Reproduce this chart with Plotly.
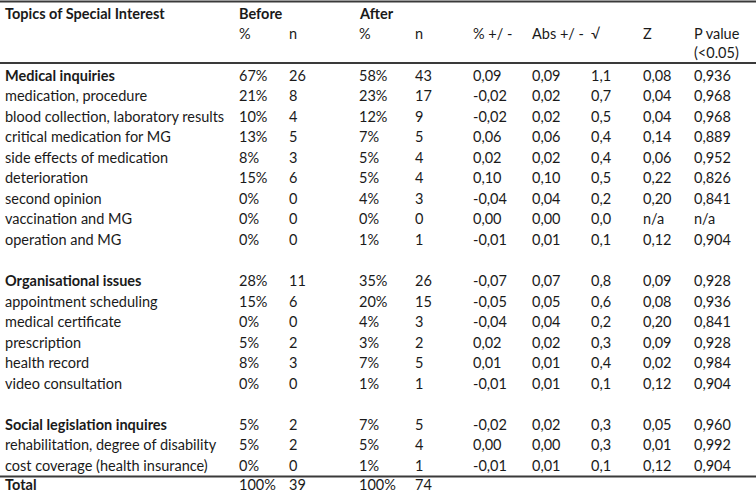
import plotly.graph_objects as go

# ---- data ----
topics = ["Medical inquiries", "medication, procedure", "blood collection, laboratory results",
          "critical medication for MG", "side effects of medication", "deterioration",
          "second opinion", "vaccination and MG", "operation and MG", None,
          "Organisational issues", "appointment scheduling", "medical certificate",
          "prescription", "health record", "video consultation", None,
          "Social legislation inquires", "rehabilitation, degree of disability",
          "cost coverage (health insurance)", "Total"]
bold_rows = {"Medical inquiries", "Organisational issues", "Social legislation inquires", "Total"}
before_pct = [67, 21, 10, 13, 8, 15, 0, 0, 0, None, 28, 15, 0, 5, 8, 0, None, 5, 5, 0, 100]
before_n = [26, 8, 4, 5, 3, 6, 0, 0, 0, None, 11, 6, 0, 2, 3, 0, None, 2, 2, 0, 39]
after_pct = [58, 23, 12, 7, 5, 5, 4, 0, 1, None, 35, 20, 4, 3, 7, 1, None, 7, 5, 1, 100]
after_n = [43, 17, 9, 5, 4, 4, 3, 0, 1, None, 26, 15, 3, 2, 5, 1, None, 5, 4, 1, 74]
pct_diff = [0.09, -0.02, -0.02, 0.06, 0.02, 0.10, -0.04, 0.00, -0.01, None,
            -0.07, -0.05, -0.04, 0.02, 0.01, -0.01, None, -0.02, 0.00, -0.01, None]
abs_diff = [0.09, 0.02, 0.02, 0.06, 0.02, 0.10, 0.04, 0.00, 0.01, None,
            0.07, 0.05, 0.04, 0.02, 0.01, 0.01, None, 0.02, 0.00, 0.01, None]
sqrt_v = [1.1, 0.7, 0.5, 0.4, 0.4, 0.5, 0.2, 0.0, 0.1, None,
          0.8, 0.6, 0.2, 0.3, 0.4, 0.1, None, 0.3, 0.3, 0.1, None]
z_v = [0.08, 0.04, 0.04, 0.14, 0.06, 0.22, 0.20, "n/a", 0.12, None,
       0.09, 0.08, 0.20, 0.09, 0.02, 0.12, None, 0.05, 0.01, 0.12, None]
p_v = [0.936, 0.968, 0.968, 0.889, 0.952, 0.826, 0.841, "n/a", 0.904, None,
       0.928, 0.936, 0.841, 0.928, 0.984, 0.904, None, 0.960, 0.992, 0.904, None]

header1 = ["Topics of Special Interest", "Before", "", "After", "", "", "", "", "", ""]
header2 = ["", "%", "n", "%", "n", "% +/ -", "Abs +/ -", "\u221a", "Z", "P value"]
header3 = ["", "", "", "", "", "", "", "", "", "(<0.05)"]

# ---- layout ----
W, H = 756, 494
col_x = [3, 237, 287, 357, 413, 471, 530, 589, 641, 692]
row0_y = 75
row_h = 20.55
head_y = [13, 33, 52]
FONT = "Lato"
FS = 14.5
COLOR = "#1a1a1a"

def dec(v, nd):
    if v is None:
        return ""
    if isinstance(v, str):
        return v
    s = f"{v:.{nd}f}"
    if s.startswith("-") and float(s) == 0:
        s = s[1:]
    return s.replace(".", ",")

def pct(v):
    return "" if v is None else f"{v}%"

def num(v):
    return "" if v is None else str(v)

annotations = []

def add(x, y, text, bold=False):
    if text == "":
        return
    annotations.append(dict(
        x=x, y=y, xref="x", yref="y", text=f"<b>{text}</b>" if bold else text,
        showarrow=False, xanchor="left", yanchor="middle",
        font=dict(family=FONT, size=FS, color=COLOR)))

for hi, hrow in enumerate([header1, header2, header3]):
    for ci, t in enumerate(hrow):
        add(col_x[ci], head_y[hi], t, bold=(hi == 0))

for ri, topic in enumerate(topics):
    if topic is None:
        continue
    y = row0_y + ri * row_h
    if topic == "Total":
        y -= 1.5
    b = topic in bold_rows
    cells = [topic, pct(before_pct[ri]), num(before_n[ri]), pct(after_pct[ri]), num(after_n[ri]),
             dec(pct_diff[ri], 2), dec(abs_diff[ri], 2), dec(sqrt_v[ri], 1),
             dec(z_v[ri], 2), dec(p_v[ri], 3)]
    for ci, t in enumerate(cells):
        add(col_x[ci], y, t, bold=(b and ci == 0))

line_style = dict(color="#3a3a3a", width=2)
shapes = [
    dict(type="line", xref="x", yref="y", x0=0, x1=W, y0=1.5, y1=1.5, line=line_style),
    dict(type="line", xref="x", yref="y", x0=0, x1=W, y0=63, y1=63, line=line_style),
    dict(type="line", xref="x", yref="y", x0=0, x1=W, y0=476.5, y1=476.5, line=line_style),
]

fig = go.Figure()
fig.update_layout(
    width=W, height=H, margin=dict(l=0, r=0, t=0, b=0),
    paper_bgcolor="white", plot_bgcolor="white",
    xaxis=dict(range=[0, W], visible=False, fixedrange=True),
    yaxis=dict(range=[H, 0], visible=False, fixedrange=True),
    annotations=annotations, shapes=shapes, showlegend=False)
fig.write_html("out.html", config={"displayModeBar": False},
               post_script="document.body.style.margin='0px';document.body.style.overflow='hidden';")
